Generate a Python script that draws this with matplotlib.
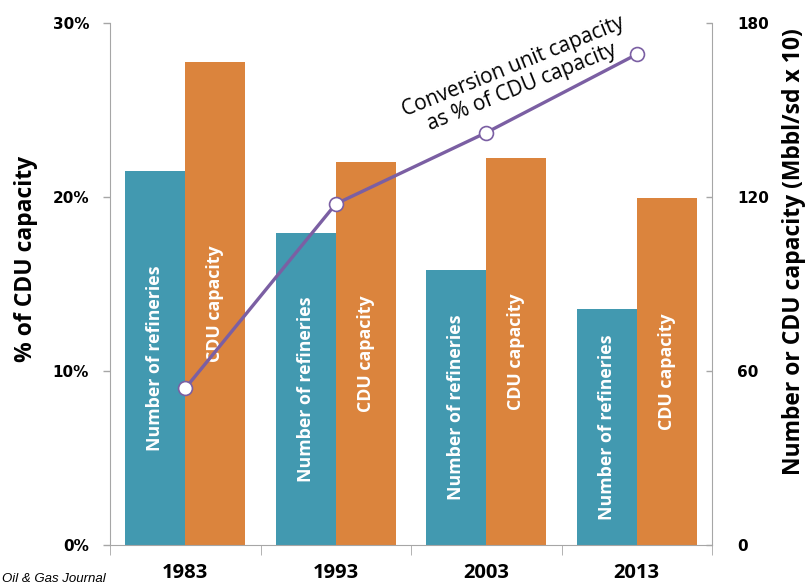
import matplotlib
matplotlib.use("Agg")
import matplotlib.pyplot as plt
import numpy as np

years = ["1983", "1993", "2003", "2013"]
refineries = [129, 107.5, 95, 81.5]          # right axis units
cdu_capacity = [166.5, 132, 133.5, 119.5]    # right axis units (Mbbl/sd x 10)
conversion_pct = [9.0, 19.6, 23.7, 28.2]     # left axis, % of CDU capacity

left_ticks = [0, 10, 20, 30]
left_ticklabels = ["0%", "10%", "20%", "30%"]
right_ticks = [0, 60, 120, 180]

BLUE = "#4299B0"
ORANGE = "#DB843D"
PURPLE = "#7B5FA3"
GRAY = "#A6A6A6"
CAL = ["Open Sans", "DejaVu Sans"]

fig = plt.figure(figsize=(8.09, 5.85), dpi=100)
ax = fig.add_axes([110/809, 1-545/585, (712-110)/809, (545-23)/585])
ax2 = ax.twinx()

x = np.arange(len(years))
w = 0.4
ax2.bar(x - w/2, refineries, width=w, color=BLUE, zorder=1)
ax2.bar(x + w/2, cdu_capacity, width=w, color=ORANGE, zorder=1)
for i in range(len(years)):
    ax2.text(x[i] - w/2, refineries[i]/2, "Number of refineries", rotation=90,
             ha="center", va="center", color="white", fontsize=12.8,
             fontweight="bold", family=CAL)
    ax2.text(x[i] + w/2, cdu_capacity[i]/2, "CDU capacity", rotation=90,
             ha="center", va="center", color="white", fontsize=12.8,
             fontweight="bold", family=CAL)

ax2.set_ylim(0, 180)
ax.set_ylim(0, 30)
ax.set_xlim(-0.5, 3.5)

ax.set_zorder(ax2.get_zorder() + 1)
ax.patch.set_visible(False)
ax.plot(x, conversion_pct, color=PURPLE, lw=2.4, marker="o", ms=10,
        mfc="white", mec=PURPLE, mew=1.2, zorder=5)

ax.text(2.21, 26.9, "Conversion unit capacity\nas % of CDU capacity",
        rotation=22, ha="center", va="center", fontsize=15, family=CAL,
        linespacing=1.12, rotation_mode="anchor")

for a in (ax, ax2):
    a.spines["top"].set_visible(False)
    for s in ("left", "right", "bottom"):
        a.spines[s].set_color(GRAY)
ax.spines["right"].set_visible(False)
ax2.spines["left"].set_visible(False)
ax2.spines["bottom"].set_visible(False)

ax.set_yticks(left_ticks)
ax.set_yticklabels(left_ticklabels)
ax.tick_params(axis="y", direction="out", length=5, color=GRAY, pad=10,
               labelsize=11, width=1)
for t in ax.get_yticklabels():
    t.set_fontweight("bold")

ax2.set_yticks(right_ticks)
ax2.tick_params(axis="y", direction="in", length=4, color=GRAY, pad=18,
                labelsize=11, width=1)
for t in ax2.get_yticklabels():
    t.set_fontweight("bold")

ax.set_xticks(x)
ax.set_xticklabels(years)
ax.set_xticks(np.arange(-0.5, 4, 1), minor=True)
ax.tick_params(axis="x", which="major", length=0, pad=13)
ax.tick_params(axis="x", which="minor", length=7, color=GRAY, direction="out")
for t in ax.get_xticklabels():
    t.set_fontweight("bold")
    t.set_fontsize(14.5)
    t.set_family(CAL)

ax.set_ylabel("% of CDU capacity", fontsize=16.5, fontweight="bold", family=CAL)
ax.yaxis.set_label_coords((38-110)/602, (545-259)/522)
ax2.set_ylabel("Number or CDU capacity (Mbbl/sd x 10)", fontsize=16.5,
               fontweight="bold", family=CAL)
ax2.yaxis.set_label_coords((782-110)/602, (545-252)/522)

fig.text(2/809, 1-579/585, "Oil & Gas Journal", fontsize=9.5, style="italic",
         family=["Liberation Sans", "DejaVu Sans"], ha="left", va="center")

fig.savefig("out.png", dpi=100)
